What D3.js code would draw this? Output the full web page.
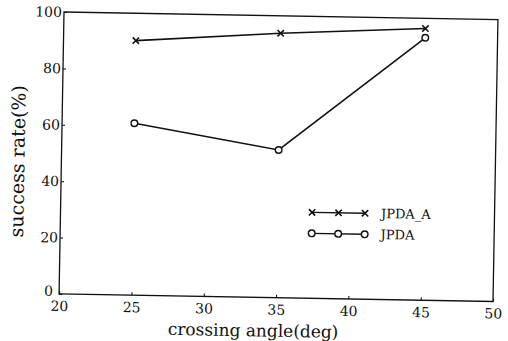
<!DOCTYPE html>
<html>
<head>
<meta charset="utf-8">
<script src="https://cdn.jsdelivr.net/npm/d3@7"></script>
<style>
  body { margin: 0; background: #fff; }
  svg { display: block; }
  text { font-family: "DejaVu Serif", serif; fill: #111; }
</style>
</head>
<body>
<svg id="chart" width="508" height="341"></svg>
<script>
// data
const angles = [25, 35, 45];
const jpdaA = [90.3, 93.8, 96.4];
const jpda = [61, 52.4, 93.1];
const seriesNames = ["JPDA_A", "JPDA"];
const xTicks = [20, 25, 30, 35, 40, 45, 50];
const yTicks = [0, 20, 40, 60, 80, 100];

const width = 434;
const height = 282;

const svg = d3.select("#chart");

// the scan is a little tilted, so the whole plot is turned by ~1 degree
const g = svg.append("g")
  .attr("transform", "translate(64,12) rotate(1)");

const x = d3.scaleLinear().domain([20, 50]).range([0, width]);
const y = d3.scaleLinear().domain([0, 100]).range([height, 0]);

// axes
g.append("g")
  .attr("transform", `translate(0,${height})`)
  .call(d3.axisBottom(x).tickValues(xTicks).tickSize(-3).tickPadding(7))
  .call(a => a.select(".domain").remove())
  .call(a => a.selectAll("text").attr("font-family", "DejaVu Serif").attr("font-size", 14).attr("fill", "#111"));

g.append("g")
  .call(d3.axisLeft(y).tickValues(yTicks).tickSize(-3).tickPadding(2))
  .call(a => a.select(".domain").remove())
  .call(a => a.selectAll("text").attr("font-family", "DejaVu Serif").attr("font-size", 14).attr("fill", "#111"))
  // the "0" sits a bit higher so it does not run into the "20" below it
  .call(a => a.selectAll(".tick text").filter(d => d === 0).attr("y", -3).attr("x", -6));

// frame
g.append("rect")
  .attr("x", 0).attr("y", 0)
  .attr("width", width).attr("height", height)
  .attr("fill", "none")
  .attr("stroke", "#111")
  .attr("stroke-width", 1.3);

// axis titles
g.append("text")
  .attr("x", 194.6)
  .attr("y", 321)
  .attr("text-anchor", "middle")
  .attr("font-size", 17)
  .text("crossing angle(deg)");

g.append("text")
  .attr("transform", "translate(-37,150) rotate(-90)")
  .attr("text-anchor", "middle")
  .attr("font-size", 19)
  .text("success rate(%)");

// lines
const line = d3.line()
  .x(d => x(d[0]))
  .y(d => y(d[1]));

const series = [
  { name: seriesNames[0], values: angles.map((a, i) => [a, jpdaA[i]]), marker: "cross" },
  { name: seriesNames[1], values: angles.map((a, i) => [a, jpda[i]]), marker: "circle" }
];

const cross = d3.symbol().type(d3.symbolX).size(28);

function drawMarker(sel, kind) {
  if (kind === "cross") {
    sel.append("path")
      .attr("d", cross)
      .attr("fill", "none")
      .attr("stroke", "#111")
      .attr("stroke-width", 1.6);
  } else {
    sel.append("circle")
      .attr("r", 3.3)
      .attr("fill", "#fff")
      .attr("stroke", "#111")
      .attr("stroke-width", 1.4);
  }
}

series.forEach(s => {
  g.append("path")
    .datum(s.values)
    .attr("d", line)
    .attr("fill", "none")
    .attr("stroke", "#111")
    .attr("stroke-width", 1.6);

  g.selectAll(null)
    .data(s.values)
    .join("g")
    .attr("transform", d => `translate(${x(d[0])},${y(d[1])})`)
    .each(function () { drawMarker(d3.select(this), s.marker); });
});

// legend
const legend = g.append("g").attr("transform", "translate(251.5,196)");
series.forEach((s, i) => {
  const row = legend.append("g").attr("transform", `translate(0,${i * 21})`);
  row.append("line")
    .attr("x1", 0).attr("x2", 53)
    .attr("stroke", "#111")
    .attr("stroke-width", 1.4);
  [0, 26.5, 53].forEach(px => {
    drawMarker(row.append("g").attr("transform", `translate(${px},0)`), s.marker);
  });
  row.append("text")
    .attr("x", 69)
    .attr("dy", "0.35em")
    .attr("font-size", 13)
    .text(s.name);
});
</script>
</body>
</html>
